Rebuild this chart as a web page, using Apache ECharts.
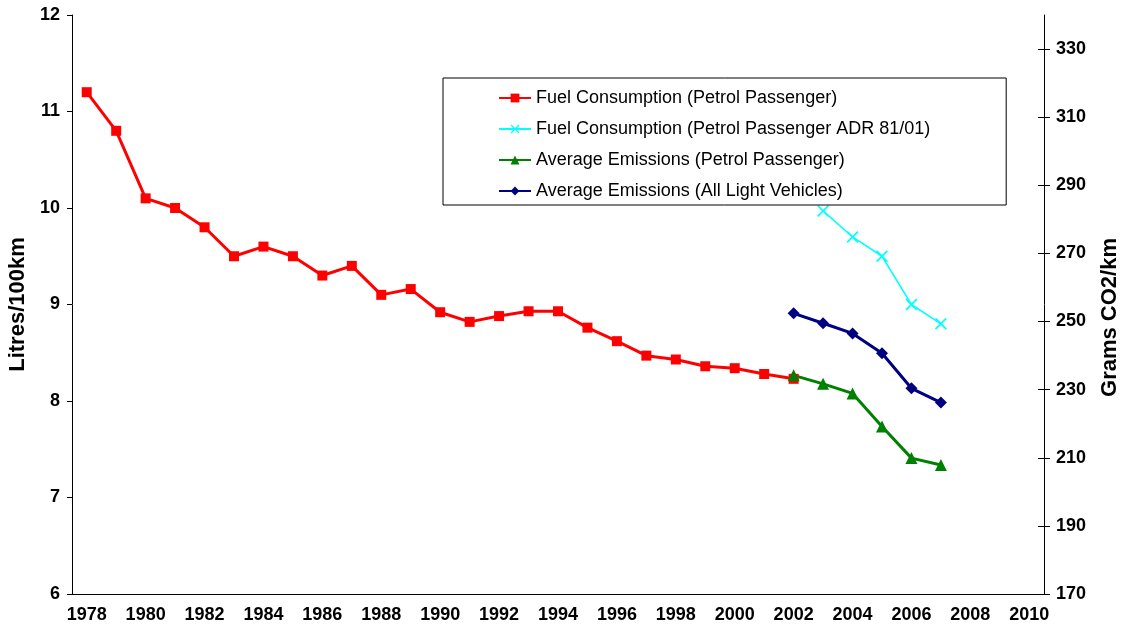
<!DOCTYPE html>
<html>
<head>
<meta charset="utf-8">
<script src="https://cdn.jsdelivr.net/npm/echarts@6/dist/echarts.min.js"></script>
<style>
  html, body { margin: 0; padding: 0; background: #fff; }
  #chart { width: 1127px; height: 635px; }
</style>
</head>
<body>
<div id="chart"></div>
<script>
// years on the category axis
const years = [];
for (let y = 1978; y <= 2010; y++) years.push(String(y));

// Fuel Consumption (Petrol Passenger), L/100km, 1978-2002
const fuelPetrolStart = 1978;
const fuelPetrol = [11.2, 10.8, 10.1, 10.0, 9.8, 9.5, 9.6, 9.5, 9.3, 9.4, 9.1, 9.16, 8.92,
  8.82, 8.88, 8.93, 8.93, 8.76, 8.62, 8.47, 8.43, 8.36, 8.34, 8.28, 8.23];

// Fuel Consumption (Petrol Passenger ADR 81/01), L/100km, 2003-2007
const fuelAdrStart = 2003;
const fuelAdr = [9.97, 9.70, 9.50, 9.0, 8.80];

// Average Emissions (Petrol Passenger), g CO2/km, 2002-2007
const emisPetrolStart = 2002;
const emisPetrol = [234.2, 231.7, 228.9, 219.2, 209.9, 207.9];

// Average Emissions (All Light Vehicles), g CO2/km, 2002-2007
const emisAllStart = 2002;
const emisAll = [252.4, 249.5, 246.5, 240.7, 230.4, 226.2];

// right axis tick labels
const rightTicks = [170, 190, 210, 230, 250, 270, 290, 310, 330];

function pad(start, values) {
  return years.map(y => {
    const i = Number(y) - start;
    return i >= 0 && i < values.length ? values[i] : null;
  });
}

const chart = echarts.init(document.getElementById('chart'));

const lab = { color: '#000', fontFamily: 'Arial, Liberation Sans', fontWeight: 'bold', fontSize: 18 };
const nameStyle = { color: '#000', fontFamily: 'Arial, Liberation Sans', fontWeight: 'bold', fontSize: 22 };

const option = {
  backgroundColor: '#fff',
  animation: false,
  grid: { left: 72, right: 83, top: 15, bottom: 41, containLabel: false, outerBoundsMode: 'none' },
  legend: {
    orient: 'vertical',
    left: 443,
    top: 78,
    padding: [10, 76, 4, 55],
    itemWidth: 32,
    itemHeight: 11,
    itemGap: 11,
    borderColor: '#000',
    borderWidth: 1,
    backgroundColor: '#fff',
    textStyle: { fontFamily: 'Arial, Liberation Sans', fontSize: 18, color: '#000', lineHeight: 20 },
    data: [
      'Fuel Consumption (Petrol Passenger)',
      'Fuel Consumption (Petrol Passenger ADR 81/01)',
      'Average Emissions (Petrol Passenger)',
      'Average Emissions (All Light Vehicles)'
    ]
  },
  xAxis: {
    type: 'category',
    data: years,
    boundaryGap: true,
    axisLine: { lineStyle: { color: '#000', width: 1 } },
    axisTick: { interval: 0, length: 6, lineStyle: { color: '#000' } },
    axisLabel: Object.assign({ interval: 1, margin: 12 }, lab),
    splitLine: { show: false }
  },
  yAxis: [
    {
      type: 'value',
      min: 6, max: 12, interval: 1,
      name: 'Litres/100km',
      nameLocation: 'middle',
      nameGap: 37,
      nameTextStyle: nameStyle,
      axisLine: { show: true, lineStyle: { color: '#000' } },
      axisTick: { show: true, length: 5, lineStyle: { color: '#000' } },
      axisLabel: Object.assign({ margin: 12 }, lab),
      splitLine: { show: false }
    },
    {
      type: 'value',
      position: 'right',
      min: 170, max: 340, interval: 20,
      name: 'Grams CO2/km',
      nameLocation: 'middle',
      nameGap: 55,
      nameTextStyle: Object.assign({ padding: [0, 26, 0, 0] }, nameStyle),
      axisLine: { show: true, lineStyle: { color: '#000' } },
      axisTick: { show: true, length: 6, customValues: rightTicks, lineStyle: { color: '#000' } },
      axisLabel: Object.assign({ margin: 12, customValues: rightTicks }, lab),
      splitLine: { show: false }
    },
    {
      // inner half of the crossing ticks on the right axis
      type: 'value',
      position: 'right',
      min: 170, max: 340, interval: 20,
      axisLine: { show: false },
      axisTick: { show: true, inside: true, length: 6, customValues: rightTicks, lineStyle: { color: '#000' } },
      axisLabel: { show: false },
      splitLine: { show: false }
    }
  ],
  series: [
    {
      name: 'Fuel Consumption (Petrol Passenger)',
      type: 'line',
      yAxisIndex: 0,
      data: pad(fuelPetrolStart, fuelPetrol),
      color: '#ff0000',
      symbol: 'rect',
      symbolSize: 10,
      lineStyle: { width: 3 }
    },
    {
      name: 'Fuel Consumption (Petrol Passenger ADR 81/01)',
      type: 'line',
      yAxisIndex: 0,
      data: pad(fuelAdrStart, fuelAdr),
      color: '#00ffff',
      symbol: 'path://M1,0L5,4L9,0L10,1L6,5L10,9L9,10L5,6L1,10L0,9L4,5L0,1Z',
      symbolSize: 12,
      lineStyle: { width: 1.5 }
    },
    {
      name: 'Average Emissions (Petrol Passenger)',
      type: 'line',
      yAxisIndex: 1,
      data: pad(emisPetrolStart, emisPetrol),
      color: '#008000',
      symbol: 'triangle',
      symbolSize: 12,
      lineStyle: { width: 3 }
    },
    {
      name: 'Average Emissions (All Light Vehicles)',
      type: 'line',
      yAxisIndex: 1,
      data: pad(emisAllStart, emisAll),
      color: '#000080',
      symbol: 'diamond',
      symbolSize: 12,
      lineStyle: { width: 3 }
    }
  ]
};

chart.setOption(option);
</script>
</body>
</html>
